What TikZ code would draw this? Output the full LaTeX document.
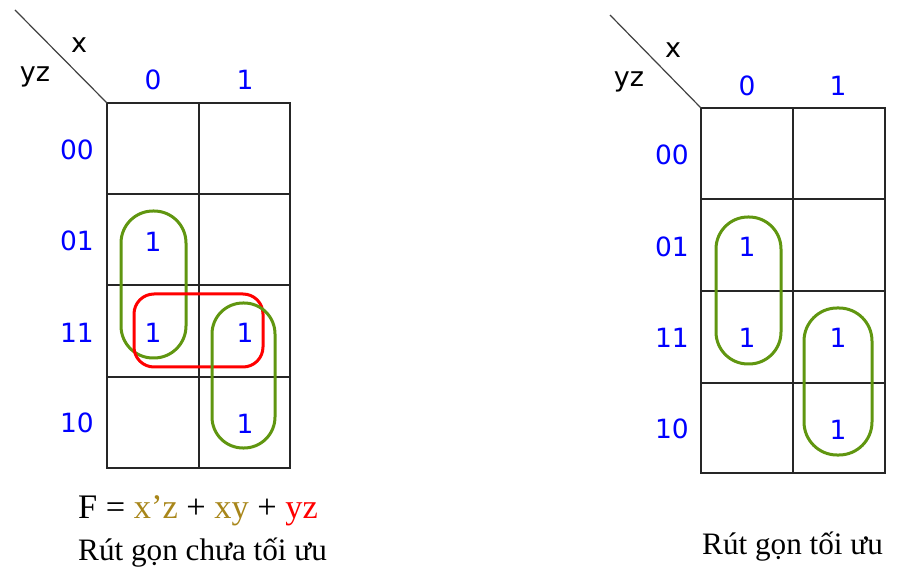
\documentclass[tikz,border=0pt]{standalone}
\usepackage{fontspec}
\setmainfont{Liberation Serif}
\newfontfamily\kfont{DejaVu Sans}
\definecolor{kblue}{RGB}{0,0,255}
\definecolor{kgreen}{RGB}{96,150,16}
\definecolor{kred}{RGB}{255,0,0}
\definecolor{kgold}{RGB}{168,134,26}
\begin{document}
\begin{tikzpicture}[x=1pt,y=-1pt,
  gridline/.style={line width=2pt,draw=black!85},
  diag/.style={line width=1.2pt,draw=black!75},
  lbl/.style={font=\kfont\fontsize{26.5}{30}\selectfont,text=kblue,inner sep=0pt},
  var/.style={font=\kfont\fontsize{27}{30}\selectfont,text=black,inner sep=0pt,anchor=base},
  one/.style={font=\kfont\fontsize{26.5}{30}\selectfont,text=kblue,inner sep=0pt},
  gloop/.style={draw=kgreen,line width=3pt},
  rloop/.style={draw=kred,line width=3pt},
  captext/.style={font=\fontsize{31.2}{36}\selectfont,inner sep=0pt,anchor=base west},
  form/.style={font=\fontsize{34.4}{38}\selectfont,inner sep=0pt,anchor=base west}]
\useasboundingbox (0,0) rectangle (914,580);
% ---------- left map ----------
\draw[gridline] (107,103) rectangle (290,468);
\draw[gridline] (199,103) -- (199,468);
\draw[gridline] (107,194) -- (290,194) (107,285) -- (290,285) (107,377) -- (290,377);
\coordinate (La) at (15,10);
\coordinate (Lb) at (107,103);
\draw[diag] (La) -- (Lb);
\node[var] (Lx) at (79,53) {x};
\node[var] (Lyz) at (35,82) {yz};
\node[lbl] (Lc0) at (153,80) {0};
\node[lbl] (Lc1) at (245,80) {1};
\node[lbl] (Lr00) at (77,150) {00};
\node[lbl] (Lr01) at (77,241) {01};
\node[lbl] (Lr11) at (77,333) {11};
\node[lbl] (Lr10) at (77,423) {10};
\node[one] (L01a) at (153,242) {1};
\node[one] (L11a) at (153,333) {1};
\node[one] (L11b) at (245,333) {1};
\node[one] (L10b) at (245,424) {1};
\draw[gloop,rounded corners=32pt] (121,211) rectangle (186,358);
\draw[rloop,rounded corners=20pt] (134,294) rectangle (263,367);
\draw[gloop,rounded corners=31pt] (212,303) rectangle (275,448);
\node[form] (Lf) at (78,518) {F = \textcolor{kgold}{x’z} + \textcolor{kgold}{xy} + \textcolor{kred}{yz}};
\node[captext] (Lcap) at (78,560) {Rút gọn chưa tối ưu};
% ---------- right map ----------
\draw[gridline] (701,108) rectangle (885,473);
\draw[gridline] (793,108) -- (793,473);
\draw[gridline] (701,199) -- (885,199) (701,291) -- (885,291) (701,383) -- (885,383);
\coordinate (Ra) at (610,15);
\coordinate (Rb) at (701,108);
\draw[diag] (Ra) -- (Rb);
\node[var] (Rx) at (673,58) {x};
\node[var] (Ryz) at (629,87) {yz};
\node[lbl] (Rc0) at (747,86) {0};
\node[lbl] (Rc1) at (838,86) {1};
\node[lbl] (Rr00) at (672,155) {00};
\node[lbl] (Rr01) at (672,247) {01};
\node[lbl] (Rr11) at (672,338) {11};
\node[lbl] (Rr10) at (672,429) {10};
\node[one] (R01a) at (747,247) {1};
\node[one] (R11a) at (747,338) {1};
\node[one] (R11b) at (838,338) {1};
\node[one] (R10b) at (838,430) {1};
\draw[gloop,rounded corners=32pt] (716,217) rectangle (781,364);
\draw[gloop,rounded corners=33pt] (804,308) rectangle (872,455);
\node[captext] (Rcap) at (702,554) {Rút gọn tối ưu};
\end{tikzpicture}
\end{document}
